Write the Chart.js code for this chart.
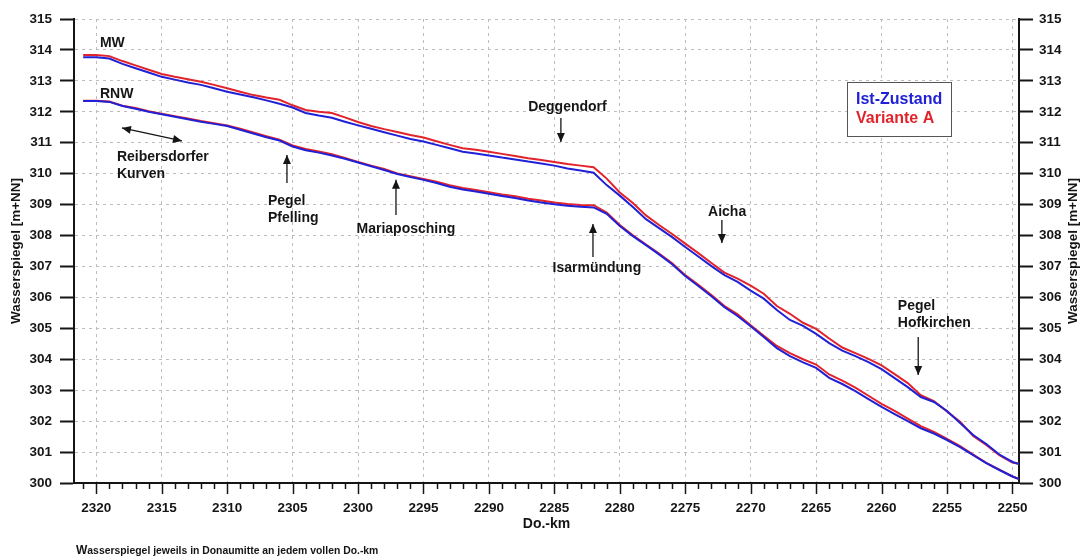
<!DOCTYPE html>
<html>
<head>
<meta charset="utf-8">
<script src="https://cdn.jsdelivr.net/npm/chart.js@4/dist/chart.umd.min.js"></script>
<style>
  html, body { margin: 0; padding: 0; background: #fff; }
  #wrap { width: 1081px; height: 559px; position: relative; }
</style>
</head>
<body>
<div id="wrap"><canvas id="c" width="1081" height="559"></canvas></div>
<script>
// Donau-Kilometer (Do.-km), one value at each full km plus the end of the section
const km = [
  2321, 2320, 2319, 2318, 2317, 2316, 2315, 2314, 2313, 2312,
  2311, 2310, 2309, 2308, 2307, 2306, 2305, 2304, 2303, 2302,
  2301, 2300, 2299, 2298, 2297, 2296, 2295, 2294, 2293, 2292,
  2291, 2290, 2289, 2288, 2287, 2286, 2285, 2284, 2283, 2282,
  2281, 2280, 2279, 2278, 2277, 2276, 2275, 2274, 2273, 2272,
  2271, 2270, 2269, 2268, 2267, 2266, 2265, 2264, 2263, 2262,
  2261, 2260, 2259, 2258, 2257, 2256, 2255, 2254, 2253, 2252,
  2251, 2250, 2249.5
];

// Mittelwasser (MW), Ist-Zustand
const mwIst = [
  313.76, 313.76, 313.72, 313.55, 313.41, 313.27, 313.13, 313.04, 312.95, 312.87,
  312.76, 312.65, 312.56, 312.47, 312.37, 312.26, 312.14, 311.96, 311.88, 311.81,
  311.68, 311.56, 311.45, 311.34, 311.23, 311.12, 311.04, 310.93, 310.82, 310.71,
  310.65, 310.59, 310.52, 310.46, 310.39, 310.33, 310.26, 310.17, 310.10, 310.03,
  309.63, 309.29, 308.92, 308.53, 308.24, 307.95, 307.63, 307.32, 307.01, 306.72,
  306.50, 306.22, 305.96, 305.59, 305.27, 305.08, 304.82, 304.52, 304.28, 304.10,
  303.91, 303.68, 303.39, 303.10, 302.78, 302.62, 302.33, 301.94, 301.55, 301.26,
  300.92, 300.68, 300.61
];

// Mittelwasser (MW), Variante A
const mwVarA = [
  313.84, 313.84, 313.80, 313.64, 313.50, 313.36, 313.22, 313.13, 313.05, 312.97,
  312.87, 312.76, 312.65, 312.54, 312.46, 312.39, 312.21, 312.06, 312.00, 311.96,
  311.82, 311.67, 311.54, 311.44, 311.35, 311.25, 311.17, 311.05, 310.93, 310.82,
  310.77, 310.71, 310.64, 310.57, 310.50, 310.44, 310.38, 310.31, 310.26, 310.21,
  309.84, 309.39, 309.05, 308.65, 308.34, 308.05, 307.74, 307.43, 307.11, 306.80,
  306.61, 306.38, 306.12, 305.72, 305.47, 305.18, 304.98, 304.67, 304.38, 304.20,
  304.01, 303.80, 303.52, 303.23, 302.84, 302.65, 302.31, 301.98, 301.52, 301.23,
  300.90, 300.66, 300.62
];

// Regulierungsniederwasser (RNW), Ist-Zustand
const rnwIst = [
  312.35, 312.35, 312.32, 312.19, 312.10, 312.00, 311.92, 311.84, 311.76, 311.68,
  311.61, 311.54, 311.42, 311.30, 311.18, 311.07, 310.88, 310.76, 310.68, 310.59,
  310.48, 310.36, 310.24, 310.12, 309.99, 309.89, 309.80, 309.70, 309.58, 309.49,
  309.42, 309.35, 309.28, 309.21, 309.13, 309.07, 309.01, 308.96, 308.93, 308.91,
  308.70, 308.31, 307.98, 307.69, 307.39, 307.07, 306.69, 306.37, 306.04, 305.68,
  305.40, 305.07, 304.72, 304.36, 304.10, 303.90, 303.72, 303.40, 303.20, 302.97,
  302.71, 302.46, 302.23, 302.00, 301.77, 301.60, 301.39, 301.16, 300.90, 300.64,
  300.42, 300.21, 300.13
];

// Regulierungsniederwasser (RNW), Variante A
const rnwVarA = [
  312.36, 312.36, 312.33, 312.20, 312.12, 312.02, 311.94, 311.86, 311.78, 311.70,
  311.63, 311.56, 311.45, 311.33, 311.21, 311.10, 310.91, 310.80, 310.72, 310.63,
  310.51, 310.38, 310.26, 310.15, 310.01, 309.92, 309.83, 309.74, 309.63, 309.54,
  309.47, 309.40, 309.33, 309.27, 309.19, 309.13, 309.07, 309.02, 308.99, 308.98,
  308.74, 308.34, 308.01, 307.71, 307.42, 307.10, 306.72, 306.41, 306.08, 305.72,
  305.45, 305.10, 304.76, 304.43, 304.20, 304.00, 303.83, 303.51, 303.31, 303.08,
  302.82, 302.56, 302.33, 302.08, 301.84, 301.65, 301.43, 301.19, 300.92, 300.65,
  300.43, 300.21, 300.13
];

// axis ranges and tick labels
const kmTickLabels = [2320, 2315, 2310, 2305, 2300, 2295, 2290, 2285, 2280, 2275, 2270, 2265, 2260, 2255, 2250];
const kmMin = 2249.5, kmMax = 2321.7;
const wspMin = 300, wspMax = 315;

const seriesNames = ['Ist-Zustand', 'Variante A'];
const curveLabels = [
  { text: 'MW',  km: 2319.72, y: 314.22 },
  { text: 'RNW', km: 2319.72, y: 312.58 }
];

// place names with arrows, in km / m+NN
const places = [
  { lines: ['Reibersdorfer', 'Kurven'], km: 2318.42, y: 310.54, align: 'left',
    arrow: { k1: 2318.04, y1: 311.48, k2: 2313.45, y2: 311.06, both: true } },
  { lines: ['Pegel', 'Pfelling'], km: 2306.88, y: 309.12, align: 'left',
    arrow: { k1: 2305.43, y1: 309.70, k2: 2305.43, y2: 310.60 } },
  { lines: ['Mariaposching'], km: 2296.34, y: 308.21, align: 'center',
    arrow: { k1: 2297.1, y1: 308.66, k2: 2297.1, y2: 309.80 } },
  { lines: ['Isarmündung'], km: 2281.75, y: 306.95, align: 'center',
    arrow: { k1: 2282.05, y1: 307.31, k2: 2282.05, y2: 308.37 } },
  { lines: ['Deggendorf'], km: 2284.0, y: 312.16, align: 'center',
    arrow: { k1: 2284.5, y1: 311.80, k2: 2284.5, y2: 311.02 } },
  { lines: ['Aicha'], km: 2271.8, y: 308.76, align: 'center',
    arrow: { k1: 2272.2, y1: 308.50, k2: 2272.2, y2: 307.76 } },
  { lines: ['Pegel', 'Hofkirchen'], km: 2258.76, y: 305.72, align: 'left',
    arrow: { k1: 2257.2, y1: 304.72, k2: 2257.2, y2: 303.49 } }
];

const BLUE = '#2020d6';
const RED = '#e3232b';
const GRID = '#bdbdbd';
const INK = '#151515';
const FONT = '"Liberation Sans", Arial, sans-serif';

function pts(arr) { return km.map((k, i) => ({ x: k, y: arr[i] })); }

function lineSet(label, arr, color) {
  return {
    label: label, data: pts(arr), borderColor: color, backgroundColor: color,
    borderWidth: 2, pointRadius: 0, tension: 0, fill: false
  };
}

function arrowHead(ctx, x1, y1, x2, y2) {
  const a = Math.atan2(y2 - y1, x2 - x1);
  const len = 9, half = 4;
  ctx.beginPath();
  ctx.moveTo(x2, y2);
  ctx.lineTo(x2 - len * Math.cos(a) + half * Math.sin(a), y2 - len * Math.sin(a) - half * Math.cos(a));
  ctx.lineTo(x2 - len * Math.cos(a) - half * Math.sin(a), y2 - len * Math.sin(a) + half * Math.cos(a));
  ctx.closePath();
  ctx.fill();
}

const decor = {
  id: 'decor',
  beforeDraw(chart) {
    const ctx = chart.ctx;
    ctx.save();
    ctx.fillStyle = '#fff';
    ctx.fillRect(0, 0, chart.width, chart.height);
    ctx.restore();
  },
  afterDraw(chart) {
    const ctx = chart.ctx;
    const xs = chart.scales.x, ys = chart.scales.y;
    const area = chart.chartArea;
    ctx.save();

    // km tick marks below the axis: short every km, longer every 5 km
    ctx.strokeStyle = INK;
    ctx.lineWidth = 1.5;
    for (let k = Math.ceil(kmMin); k <= Math.floor(kmMax); k++) {
      const px = Math.round(xs.getPixelForValue(k)) + 0.5;
      const len = (k % 5 === 0) ? 11 : 6;
      ctx.beginPath();
      ctx.moveTo(px, area.bottom);
      ctx.lineTo(px, area.bottom + len);
      ctx.stroke();
    }

    ctx.fillStyle = INK;
    // axis titles
    ctx.font = 'bold 14px ' + FONT;
    ctx.textAlign = 'center';
    ctx.textBaseline = 'middle';
    ctx.fillText('Do.-km', (area.left + area.right) / 2, area.bottom + 41);
    const midY = (area.top + area.bottom) / 2;
    ctx.font = 'bold 13.5px ' + FONT;
    [16, 1073].forEach(tx => {
      ctx.save();
      ctx.translate(tx, midY);
      ctx.rotate(-Math.PI / 2);
      ctx.fillText('Wasserspiegel [m+NN]', 0, 0);
      ctx.restore();
    });

    // footnote
    ctx.textAlign = 'left';
    ctx.textBaseline = 'alphabetic';
    ctx.font = 'bold 12px ' + FONT;
    ctx.fillText('W', 76, 554);
    const wW = ctx.measureText('W').width;
    ctx.font = 'bold 10.4px ' + FONT;
    ctx.fillText('asserspiegel jeweils in Donaumitte an jedem vollen Do.-km', 76 + wW, 554);

    // curve labels
    ctx.font = 'bold 14px ' + FONT;
    ctx.textBaseline = 'middle';
    curveLabels.forEach(l => {
      ctx.textAlign = 'left';
      ctx.fillText(l.text, xs.getPixelForValue(l.km), ys.getPixelForValue(l.y));
    });

    // place names and arrows
    places.forEach(p => {
      const x0 = xs.getPixelForValue(p.km), y0 = ys.getPixelForValue(p.y);
      ctx.textAlign = p.align;
      p.lines.forEach((t, i) => ctx.fillText(t, x0, y0 + i * 17));
      const a = p.arrow;
      const ax1 = xs.getPixelForValue(a.k1), ay1 = ys.getPixelForValue(a.y1);
      const ax2 = xs.getPixelForValue(a.k2), ay2 = ys.getPixelForValue(a.y2);
      ctx.strokeStyle = INK;
      ctx.lineWidth = 1.3;
      ctx.beginPath();
      ctx.moveTo(ax1, ay1);
      ctx.lineTo(ax2, ay2);
      ctx.stroke();
      arrowHead(ctx, ax1, ay1, ax2, ay2);
      if (a.both) arrowHead(ctx, ax2, ay2, ax1, ay1);
    });

    // legend box
    const bx = area.right - 172, by = area.top + 63, bw = 104, bh = 54;
    ctx.fillStyle = '#fff';
    ctx.fillRect(bx, by, bw, bh);
    ctx.strokeStyle = '#555';
    ctx.lineWidth = 1;
    ctx.strokeRect(bx + 0.5, by + 0.5, bw, bh);
    ctx.font = 'bold 16px ' + FONT;
    ctx.textAlign = 'left';
    ctx.fillStyle = BLUE;
    ctx.fillText(seriesNames[0], bx + 9, by + 18);
    ctx.fillStyle = RED;
    ctx.fillText(seriesNames[1], bx + 9, by + 37);

    ctx.restore();
  }
};

new Chart(document.getElementById('c'), {
  type: 'line',
  data: {
    datasets: [
      lineSet('MW ' + seriesNames[0], mwIst, BLUE),
      lineSet('RNW ' + seriesNames[0], rnwIst, BLUE),
      lineSet('MW ' + seriesNames[1], mwVarA, RED),
      lineSet('RNW ' + seriesNames[1], rnwVarA, RED)
    ]
  },
  options: {
    responsive: false,
    animation: false,
    layout: { padding: { top: 19, left: 0, right: 0, bottom: 0 } },
    plugins: { legend: { display: false }, tooltip: { enabled: false }, title: { display: false } },
    scales: {
      x: {
        type: 'linear',
        reverse: true,
        min: kmMin,
        max: kmMax,
        afterBuildTicks(scale) {
          const t = [];
          for (let k = Math.ceil(kmMin); k <= Math.floor(kmMax); k++) t.push({ value: k });
          scale.ticks = t;
        },
        afterFit(scale) { scale.height = 76; },
        ticks: {
          autoSkip: false, maxRotation: 0, padding: 17,
          color: INK, font: { family: FONT, size: 13.5, weight: 'bold' },
          callback: v => kmTickLabels.includes(v) ? String(v) : ''
        },
        grid: {
          drawTicks: false,
          lineWidth: 1,
          color: c => (c.tick && kmTickLabels.includes(c.tick.value)) ? GRID : 'rgba(0,0,0,0)'
        },
        border: { display: true, color: INK, width: 2, dash: [3, 4] }
      },
      y: {
        position: 'left',
        min: wspMin, max: wspMax,
        afterFit(scale) { scale.width = 74; },
        ticks: { stepSize: 1, padding: 8, color: INK, font: { family: FONT, size: 13.5, weight: 'bold' } },
        grid: { color: GRID, lineWidth: 1, tickLength: 14, tickColor: INK, tickWidth: 2 },
        border: { display: true, color: INK, width: 2, dash: [3, 4] }
      },
      y2: {
        position: 'right',
        min: wspMin, max: wspMax,
        afterFit(scale) { scale.width = 62; },
        ticks: { stepSize: 1, padding: 6, color: INK, font: { family: FONT, size: 13.5, weight: 'bold' } },
        grid: { drawOnChartArea: false, tickLength: 14, tickColor: INK, tickWidth: 2 },
        border: { display: true, color: INK, width: 2 }
      }
    }
  },
  plugins: [decor]
});
</script>
</body>
</html>
